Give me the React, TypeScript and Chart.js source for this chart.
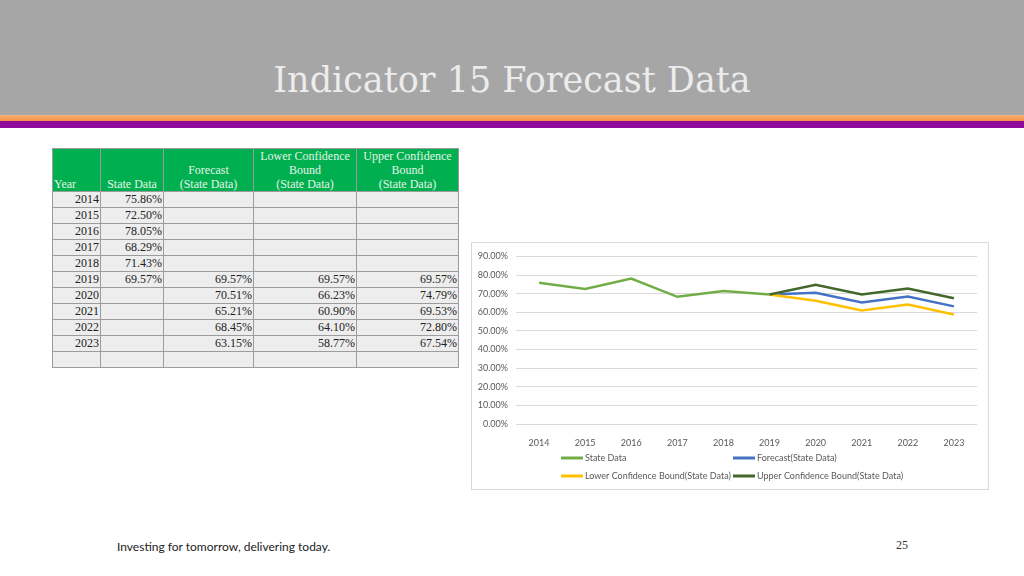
import React, { useEffect, useRef } from "react";
import { Chart, registerables } from "chart.js";

Chart.register(...registerables);

const years = ["2014", "2015", "2016", "2017", "2018", "2019", "2020", "2021", "2022", "2023"];
const stateData: (number | null)[] = [75.86, 72.5, 78.05, 68.29, 71.43, 69.57, null, null, null, null];
const forecast: (number | null)[] = [null, null, null, null, null, 69.57, 70.51, 65.21, 68.45, 63.15];
const lowerBound: (number | null)[] = [null, null, null, null, null, 69.57, 66.23, 60.9, 64.1, 58.77];
const upperBound: (number | null)[] = [null, null, null, null, null, 69.57, 74.79, 69.53, 72.8, 67.54];
const seriesLabels = [
  "State Data",
  "Forecast(State Data)",
  "Lower Confidence Bound(State Data)",
  "Upper Confidence Bound(State Data)",
];
const seriesColors = ["#70AD47", "#4472C4", "#FFC000", "#43682B"];
const tableHeaders = ["Year", "State Data", "Forecast\n(State Data)", "Lower Confidence\nBound\n(State Data)", "Upper Confidence\nBound\n(State Data)"];

const fmt = (v: number | null) => (v == null ? "" : v.toFixed(2) + "%");

const CHART_FONT = "Lato";

const legendPlugin = {
  id: "gridLegend",
  afterDraw(chart: any) {
    const ctx = chart.ctx as CanvasRenderingContext2D;
    const cols = [89, 261];
    const rows = [215, 233];
    chart.data.datasets.forEach((ds: any, i: number) => {
      const x = cols[i % 2];
      const y = rows[Math.floor(i / 2)];
      ctx.save();
      ctx.strokeStyle = ds.borderColor;
      ctx.lineWidth = 3;
      ctx.beginPath();
      ctx.moveTo(x, y);
      ctx.lineTo(x + 22, y);
      ctx.stroke();
      ctx.fillStyle = "#595959";
      ctx.font = `9px "${CHART_FONT}"`;
      ctx.textBaseline = "middle";
      ctx.textAlign = "left";
      ctx.fillText(ds.label, x + 24, y);
      ctx.restore();
    });
  },
};

function LineChart() {
  const ref = useRef<HTMLCanvasElement>(null);
  useEffect(() => {
    if (!ref.current) return;
    const series = [stateData, forecast, lowerBound, upperBound];
    const chart = new Chart(ref.current, {
      type: "line",
      data: {
        labels: years,
        datasets: series.map((d, i) => ({
          label: seriesLabels[i],
          data: d,
          borderColor: seriesColors[i],
          backgroundColor: seriesColors[i],
          borderWidth: 2.5,
          pointRadius: 0,
          tension: 0,
          spanGaps: false,
          order: 3 - i,
        })),
      },
      options: {
        animation: false,
        responsive: false,
        layout: { padding: { left: 0, right: 11, top: 11, bottom: 43 } },
        plugins: { legend: { display: false }, tooltip: { enabled: false } },
        scales: {
          x: {
            offset: true,
            grid: { display: false },
            border: { display: false },
            ticks: { color: "#595959", font: { family: CHART_FONT, size: 9 }, padding: 6 },
            afterFit: (s: any) => {
              s.height = 22;
            },
          },
          y: {
            min: 0,
            max: 90,
            grid: { color: "#d9d9d9", drawTicks: false },
            border: { display: false },
            ticks: {
              stepSize: 10,
              color: "#595959",
              font: { family: CHART_FONT, size: 9 },
              padding: 8,
              callback: (v: any) => Number(v).toFixed(2) + "%",
            },
            afterFit: (s: any) => {
              s.width = 44;
            },
          },
        },
      },
      plugins: [legendPlugin],
    });
    return () => chart.destroy();
  }, []);
  return <canvas ref={ref} width={516} height={246} style={{ display: "block" }} />;
}

export default function App() {
  const cell: React.CSSProperties = {
    border: "1px solid #9c9c9c",
    padding: "0 1px",
    height: 15,
    lineHeight: "15px",
    textAlign: "right",
    background: "#ededed",
    color: "#222",
  };
  const head: React.CSSProperties = {
    border: "1px solid #9c9c9c",
    padding: "0 1px",
    height: 42,
    lineHeight: "14px",
    background: "#00B050",
    color: "#e6f3e6",
    verticalAlign: "bottom",
    textAlign: "center",
    whiteSpace: "pre-line",
    fontWeight: "normal",
  };
  const rows = years.map((y, i) => [y, fmt(stateData[i]), fmt(forecast[i]), fmt(lowerBound[i]), fmt(upperBound[i])]);
  rows.push(["", "", "", "", ""]);
  return (
    <div style={{ position: "absolute", left: 0, top: 0, width: 1024, height: 576, overflow: "hidden", background: "#fff" }}>
      <div style={{ position: "absolute", left: 0, top: 0, width: 1024, height: 115, background: "#a6a6a6" }} />
      <div style={{ position: "absolute", left: 0, top: 115, width: 1024, height: 6, background: "linear-gradient(#f9b27a, #f68d45)" }} />
      <div style={{ position: "absolute", left: 0, top: 121, width: 1024, height: 7, background: "#8e0a9a" }} />
      <div
        style={{
          position: "absolute",
          left: 0,
          top: 56,
          width: 1024,
          textAlign: "center",
          fontFamily: '"DejaVu Serif", serif',
          fontSize: 35,
          lineHeight: "48px",
          color: "#ececec",
        }}
      >
        Indicator 15 Forecast Data
      </div>
      <table
        style={{
          position: "absolute",
          left: 52,
          top: 148,
          width: 406,
          borderCollapse: "collapse",
          tableLayout: "fixed",
          fontFamily: '"Liberation Serif", serif',
          fontSize: 12,
        }}
      >
        <colgroup>
          <col style={{ width: 48 }} />
          <col style={{ width: 63 }} />
          <col style={{ width: 90 }} />
          <col style={{ width: 103 }} />
          <col style={{ width: 102 }} />
        </colgroup>
        <thead>
          <tr>
            {tableHeaders.map((h, i) => (
              <th key={i} style={{ ...head, textAlign: i === 0 ? "left" : "center" }}>
                {h}
              </th>
            ))}
          </tr>
        </thead>
        <tbody>
          {rows.map((r, i) => (
            <tr key={i}>
              {r.map((c, j) => (
                <td key={j} style={cell}>
                  {c}
                </td>
              ))}
            </tr>
          ))}
        </tbody>
      </table>
      <div style={{ position: "absolute", left: 471, top: 242, width: 516, height: 246, border: "1px solid #d9d9d9" }}>
        <LineChart />
      </div>
      <div
        style={{
          position: "absolute",
          left: 117,
          top: 539,
          fontFamily: "Lato, sans-serif",
          fontSize: 12,
          color: "#222",
          whiteSpace: "nowrap",
        }}
      >
        Investing for tomorrow, delivering today.
      </div>
      <div
        style={{
          position: "absolute",
          left: 896,
          top: 538,
          fontFamily: '"Liberation Serif", serif',
          fontSize: 12,
          color: "#333",
        }}
      >
        25
      </div>
    </div>
  );
}
